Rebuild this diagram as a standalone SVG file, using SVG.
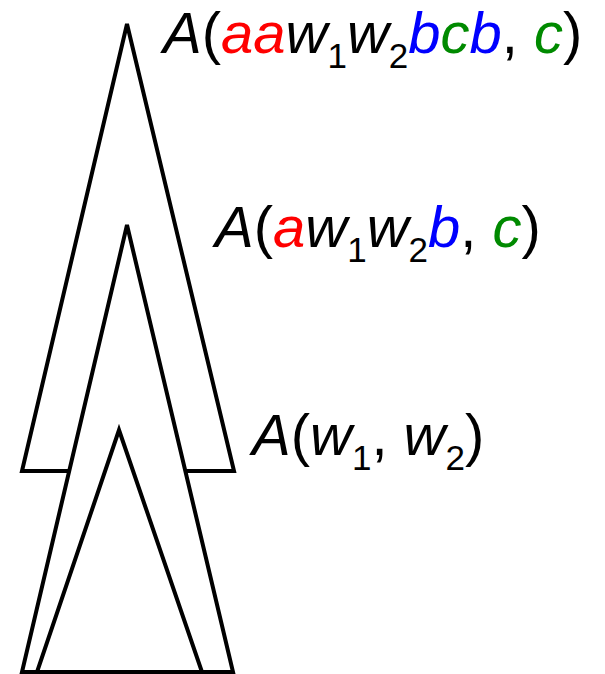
<svg xmlns="http://www.w3.org/2000/svg" width="605" height="674" viewBox="0 0 605 674">
<style>
.tri{fill:#fff;stroke:#000;stroke-width:4;stroke-linejoin:miter}
.lbl{font-family:"Liberation Sans","DejaVu Sans",sans-serif;font-size:58px;fill:#000}
.i{font-style:italic}
.sub{font-size:35px}
.r{fill:#ff0000}.b{fill:#0000ff}.g{fill:#008a00}
</style>
<rect width="605" height="674" fill="#fff"/>
<g id="tree-outer">
<polygon class="tri" points="127,24 234,471 22,471"/>
</g>
<g id="tree-middle">
<polygon class="tri" points="127,225 233,672 22,672"/>
</g>
<g id="tree-inner">
<polygon class="tri" points="119,430 202,672 37,672"/>
</g>
<g id="label-outer">
<text class="lbl" x="163" y="53"><tspan class="i">A</tspan>(<tspan class="i r">aa</tspan><tspan class="i">w</tspan><tspan class="sub" dy="15">1</tspan><tspan class="i" dy="-15">w</tspan><tspan class="sub" dy="15">2</tspan><tspan class="i b" dy="-15">b</tspan><tspan class="i g">c</tspan><tspan class="i b">b</tspan>, <tspan class="i g">c</tspan>)</text>
</g>
<g id="label-middle">
<text class="lbl" x="215" y="247"><tspan class="i">A</tspan>(<tspan class="i r">a</tspan><tspan class="i">w</tspan><tspan class="sub" dy="15">1</tspan><tspan class="i" dy="-15">w</tspan><tspan class="sub" dy="15">2</tspan><tspan class="i b" dy="-15">b</tspan>, <tspan class="i g">c</tspan>)</text>
</g>
<g id="label-inner">
<text class="lbl" x="252" y="455"><tspan class="i">A</tspan>(<tspan class="i">w</tspan><tspan class="sub" dy="15">1</tspan><tspan dy="-15">, </tspan><tspan class="i">w</tspan><tspan class="sub" dy="15">2</tspan><tspan dy="-15">)</tspan></text>
</g>
</svg>
